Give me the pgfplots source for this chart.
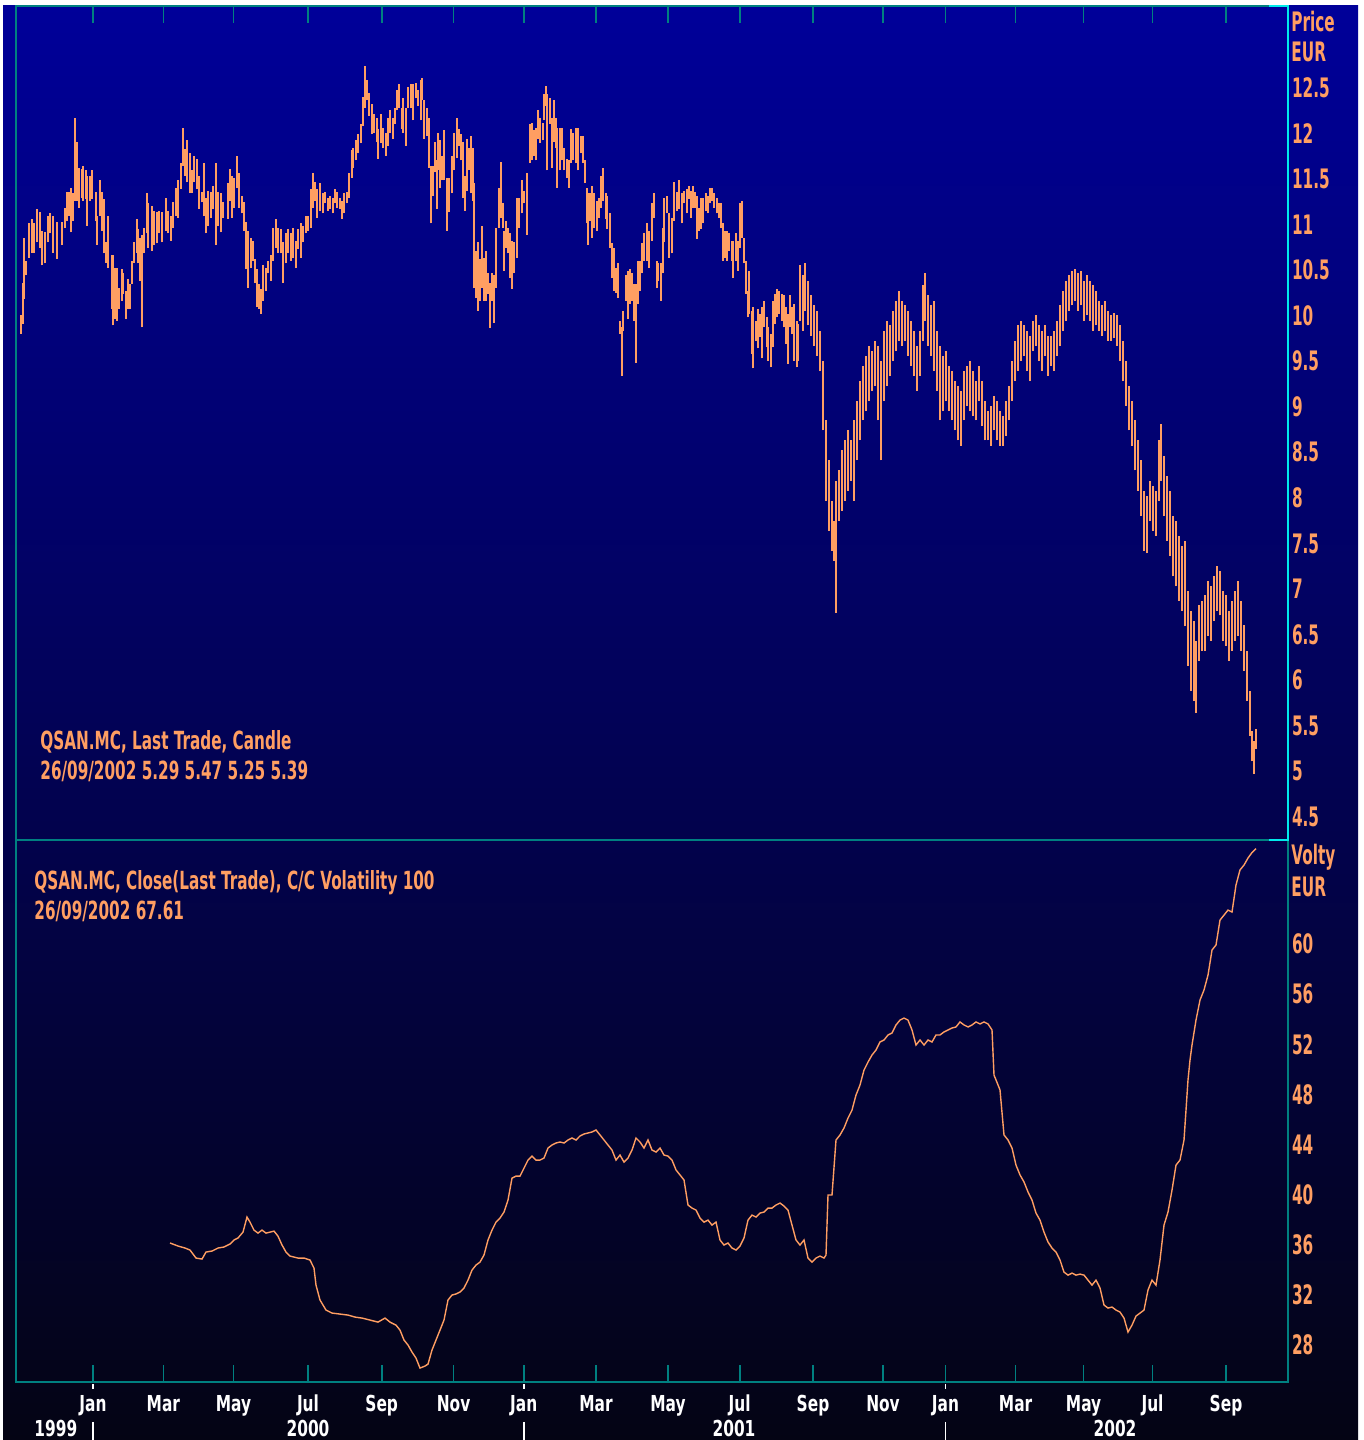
\documentclass[border=0pt]{standalone}
\usepackage{pgfplots}
\usepackage{pgfplotstable}
\pgfplotsset{compat=1.18}
\usepackage{fontspec}
\setmainfont{DejaVu Sans}
\newfontfamily\rfont{DejaVu Sans}[FakeStretch=0.57]
\newfontfamily\tfont{DejaVu Sans}[FakeStretch=0.61]
\newfontfamily\mfont{DejaVu Sans}[FakeStretch=0.70]
\definecolor{bgtop}{RGB}{0,0,153}
\definecolor{bgbot}{RGB}{4,4,20}
\definecolor{frame}{RGB}{0,128,128}
\definecolor{cyanl}{RGB}{0,235,235}
\definecolor{org}{RGB}{255,158,98}
\newcommand{\rlab}{\rfont\fontsize{13.4}{15}\selectfont\bfseries}
\newcommand{\tlab}{\tfont\fontsize{12.5}{14}\selectfont\bfseries}
\newcommand{\mlab}{\mfont\fontsize{11}{13}\selectfont\bfseries}

\pgfplotstableread{
x lo hi
21 9.80 10.00
23 9.91 10.36
24 10.18 10.85
26 10.44 10.60
29 10.63 11.01
32 10.69 11.06
34 10.69 11.01
37 10.80 11.17
40 10.74 11.13
42 10.55 10.93
45 10.57 10.91
48 10.80 11.09
50 10.90 11.12
53 10.69 11.09
57 10.62 11.02
62 10.77 11.02
65 10.96 11.18
67 11.04 11.35
69 11.09 11.35
71 10.91 11.40
73 11.04 11.34
75 11.26 12.16
77 11.26 11.90
79 11.18 11.62
82 11.29 11.61
83 11.26 11.64
86 11.28 11.59
87 10.98 11.53
90 11.26 11.53
92 11.28 11.59
96 11.04 11.35
97 10.77 11.09
100 11.09 11.48
102 10.93 11.35
104 10.68 11.28
106 10.58 10.80
108 10.52 11.09
112 10.07 10.66
113 9.89 10.66
115 9.96 10.52
117 9.94 10.52
119 10.07 10.30
122 10.16 10.51
123 10.24 10.46
126 9.96 10.27
128 10.07 10.40
130 10.07 10.35
132 10.35 10.60
134 10.58 10.80
137 10.69 11.06
138 10.57 10.95
140 10.38 10.85
142 9.87 10.88
144 10.68 10.96
147 10.90 11.34
148 10.74 11.23
152 10.71 11.20
154 10.77 11.15
157 10.79 11.13
159 10.90 11.15
162 10.80 11.13
166 10.93 11.29
168 10.90 11.15
171 10.82 11.09
173 10.96 11.24
176 11.09 11.40
178 11.07 11.48
181 11.39 11.67
183 11.64 12.06
185 11.53 11.83
187 11.46 11.92
190 11.34 11.78
192 11.34 11.59
194 11.46 11.75
197 11.39 11.72
199 11.17 11.53
202 11.24 11.35
204 11.09 11.67
206 10.90 11.29
208 10.98 11.37
211 11.07 11.35
213 11.17 11.42
216 10.77 11.67
218 10.98 11.35
221 10.91 11.34
223 11.07 11.24
228 11.06 11.45
230 11.26 11.61
232 11.07 11.53
234 11.18 11.51
237 11.40 11.75
239 11.18 11.56
242 11.12 11.31
244 10.93 11.24
246 10.51 11.02
248 10.30 10.93
251 10.52 10.85
253 10.60 10.82
255 10.36 10.62
257 10.09 10.51
259 10.07 10.35
261 10.02 10.29
263 10.16 10.55
266 10.27 10.52
268 10.46 10.60
271 10.38 10.66
273 10.60 10.96
276 10.74 11.06
278 10.69 10.96
281 10.68 10.95
283 10.36 10.80
286 10.57 10.90
288 10.69 10.95
291 10.60 10.90
293 10.63 10.96
296 10.52 10.82
298 10.73 10.95
301 10.63 11.01
303 10.80 10.98
306 10.90 11.09
308 10.93 11.09
311 10.96 11.39
313 11.18 11.56
315 11.26 11.46
317 11.07 11.39
320 11.15 11.45
323 11.12 11.34
325 11.23 11.35
328 11.15 11.29
330 11.17 11.31
333 11.12 11.29
335 11.23 11.39
337 11.18 11.35
340 11.17 11.29
342 11.06 11.26
344 11.12 11.34
347 11.23 11.35
349 11.29 11.56
352 11.51 11.81
353 11.62 11.84
356 11.70 11.92
358 11.78 11.99
361 11.89 12.10
363 12.08 12.39
365 12.28 12.74
367 12.36 12.58
369 12.19 12.44
372 11.99 12.32
374 12.00 12.21
377 11.90 12.17
378 11.72 12.05
381 11.89 12.21
383 11.84 12.06
386 11.75 12.00
388 11.86 12.16
390 12.00 12.25
393 11.94 12.17
395 12.10 12.27
397 12.25 12.47
399 12.28 12.54
402 12.05 12.28
403 12.00 12.38
406 11.86 12.27
408 12.28 12.50
411 12.28 12.54
413 12.14 12.54
416 12.38 12.55
418 12.30 12.47
421 12.14 12.58
422 12.36 12.60
424 11.94 12.36
427 11.97 12.28
429 11.62 12.16
431 11.01 11.64
433 11.31 11.64
435 11.57 11.90
437 11.17 11.70
438 11.59 12.00
440 11.40 11.92
442 11.48 11.75
444 11.48 12.03
447 10.93 11.51
449 11.13 11.51
452 11.34 11.75
454 11.59 12.00
457 11.73 12.16
459 11.86 12.05
461 11.70 11.99
463 11.29 11.90
465 11.15 11.53
467 11.37 11.94
469 11.59 11.84
471 11.34 11.97
473 11.26 11.84
474 10.30 11.45
476 10.19 10.71
478 10.05 10.80
480 10.16 10.62
482 10.30 10.98
484 10.16 10.63
486 10.16 10.71
488 10.24 10.47
490 9.86 10.36
492 10.16 10.46
494 9.92 10.44
496 10.30 10.96
499 10.96 11.40
501 11.07 11.68
503 10.96 11.23
504 10.49 10.93
506 10.74 11.04
508 10.68 10.96
510 10.41 10.90
512 10.29 10.82
514 10.46 10.80
517 10.63 11.29
519 10.96 11.29
522 11.12 11.48
524 11.23 11.37
527 10.88 11.56
530 11.67 12.10
532 11.70 12.11
534 11.75 12.03
536 11.70 12.06
538 11.94 12.25
540 11.89 12.16
543 11.92 12.11
544 12.14 12.43
546 12.30 12.52
547 11.59 12.43
550 12.10 12.38
552 11.62 12.17
554 11.90 12.36
556 11.84 12.17
557 11.40 12.06
560 11.59 12.06
562 11.70 12.06
564 11.59 11.84
567 11.51 11.72
569 11.40 11.70
571 11.67 12.05
573 11.70 12.00
576 11.67 12.06
578 11.59 12.06
581 11.78 11.97
583 11.67 11.97
585 11.45 11.70
587 11.01 11.40
588 10.77 11.34
590 11.04 11.34
592 10.85 11.42
594 10.96 11.34
597 10.93 11.26
599 11.07 11.29
601 11.18 11.53
603 11.26 11.62
606 11.06 11.34
607 10.95 11.31
610 10.74 11.12
612 10.41 10.79
614 10.27 10.74
616 10.25 10.52
618 10.19 10.58
620 9.80 9.94
622 9.34 9.87
623 9.83 10.05
626 10.16 10.44
628 9.96 10.49
630 10.13 10.51
632 10.16 10.46
634 9.94 10.35
636 9.48 10.35
638 10.13 10.60
640 10.27 10.60
642 10.46 10.79
644 10.60 10.90
647 10.60 11.01
649 10.52 10.93
652 10.82 11.23
654 11.07 11.34
657 10.30 10.60
658 10.38 10.58
661 10.16 10.58
663 10.46 10.96
664 10.80 11.29
667 11.12 11.31
669 10.63 11.12
672 10.68 11.07
674 11.04 11.46
677 11.15 11.35
679 11.17 11.48
682 11.01 11.34
684 11.23 11.37
687 11.12 11.39
689 11.28 11.42
691 11.07 11.37
693 11.18 11.42
695 11.18 11.35
697 10.84 11.31
699 10.93 11.18
701 10.95 11.29
703 11.01 11.29
706 11.15 11.34
708 11.12 11.31
710 11.23 11.40
712 11.26 11.40
714 11.18 11.34
717 11.12 11.29
719 11.07 11.23
721 10.96 11.23
723 10.60 11.01
725 10.63 10.93
727 10.60 10.93
729 10.71 10.90
732 10.60 10.82
733 10.41 10.82
736 10.60 10.90
738 10.49 10.82
740 10.74 11.23
742 10.85 11.26
744 10.57 10.85
746 10.24 10.60
748 9.98 10.27
749 10.02 10.49
752 9.58 10.05
753 9.42 10.09
756 9.72 9.94
758 9.64 10.07
760 9.76 10.02
762 9.53 10.09
764 9.87 10.16
767 9.65 9.98
768 9.50 9.87
771 9.43 9.80
773 9.65 10.16
775 9.91 10.24
777 9.98 10.29
779 10.02 10.27
782 9.94 10.24
784 9.87 10.22
786 9.69 10.09
788 9.47 10.02
790 9.87 10.22
792 9.80 10.09
794 9.50 10.13
797 9.43 9.94
798 9.50 9.91
800 9.94 10.55
803 9.83 10.44
805 10.05 10.58
808 9.89 10.38
811 9.78 10.22
814 9.67 10.11
817 9.56 10.05
820 9.39 9.83
823 8.74 9.50
826 7.97 8.85
829 7.64 8.41
832 7.42 7.97
834 7.31 7.75
836 6.74 8.19
839 7.75 8.30
842 7.86 8.52
845 7.97 8.63
848 8.08 8.74
851 8.19 8.63
854 7.97 8.85
857 8.41 9.06
860 8.63 9.28
863 8.85 9.45
866 8.95 9.56
869 9.06 9.67
872 9.17 9.61
875 9.23 9.72
878 8.85 9.67
881 8.41 9.50
884 9.06 9.83
887 9.23 9.94
890 9.34 9.89
893 9.50 10.05
896 9.61 10.16
899 9.72 10.27
902 9.67 10.16
905 9.72 10.11
908 9.56 10.05
911 9.45 9.94
914 9.34 9.83
917 9.17 9.67
920 9.34 9.83
923 9.72 10.33
925 9.94 10.47
928 9.67 10.22
931 9.56 10.11
934 9.39 10.16
937 9.17 9.83
940 8.85 9.67
943 8.95 9.56
946 9.06 9.61
949 8.95 9.45
952 8.85 9.39
955 8.74 9.28
958 8.63 9.23
961 8.57 9.17
964 8.85 9.39
967 9.01 9.45
970 8.95 9.50
973 8.90 9.39
976 8.85 9.28
979 9.06 9.45
982 8.79 9.28
985 8.63 9.06
988 8.63 8.95
991 8.57 9.01
994 8.74 9.12
997 8.63 9.06
1000 8.57 8.95
1003 8.57 8.90
1006 8.68 9.06
1009 8.85 9.23
1012 9.06 9.50
1015 9.28 9.72
1018 9.39 9.89
1021 9.50 9.94
1024 9.56 9.89
1027 9.39 9.83
1030 9.28 9.78
1033 9.61 9.94
1036 9.67 10.00
1039 9.50 9.89
1042 9.39 9.83
1045 9.56 9.89
1048 9.34 9.78
1051 9.45 9.78
1054 9.39 9.83
1057 9.56 9.94
1060 9.67 10.11
1063 9.83 10.27
1066 9.94 10.38
1069 10.05 10.44
1072 10.11 10.49
1075 10.16 10.51
1078 10.05 10.47
1081 10.11 10.49
1084 9.94 10.38
1087 10.00 10.44
1090 9.94 10.38
1093 9.83 10.33
1096 9.89 10.27
1099 9.83 10.16
1102 9.78 10.11
1105 9.83 10.16
1108 9.72 10.05
1111 9.72 10.00
1114 9.75 10.03
1117 9.67 10.00
1120 9.50 9.89
1123 9.28 9.72
1126 9.01 9.50
1129 8.74 9.23
1132 8.57 9.06
1135 8.30 8.85
1138 8.08 8.63
1141 7.80 8.41
1144 7.42 8.08
1147 7.39 8.02
1150 7.75 8.19
1153 7.64 8.13
1156 7.58 8.08
1159 7.97 8.63
1161 8.19 8.81
1164 7.80 8.46
1167 7.53 8.24
1170 7.36 8.08
1173 7.14 7.80
1176 7.03 7.75
1179 6.87 7.58
1182 6.76 7.47
1185 6.59 7.53
1188 6.16 6.98
1191 5.88 6.76
1194 5.77 6.65
1196 5.64 6.43
1199 6.21 6.82
1202 6.32 6.87
1205 6.32 6.93
1208 6.49 7.09
1211 6.43 7.03
1214 6.65 7.14
1217 6.76 7.25
1220 6.71 7.20
1223 6.43 6.98
1226 6.38 6.93
1229 6.21 6.76
1232 6.32 6.87
1235 6.43 6.98
1238 6.49 7.09
1241 6.32 6.87
1244 6.10 6.60
1247 5.77 6.32
1250 5.39 5.88
1252 5.11 5.44
1254 4.97 5.33
1256 5.25 5.47
}\price

\pgfplotstableread{
x v
170 36.14
178 35.90
185 35.74
190 35.58
196 34.94
202 34.86
206 35.42
212 35.50
218 35.74
224 35.82
230 36.06
234 36.38
238 36.54
243 37.01
247 38.21
250 37.81
254 37.17
258 36.93
262 37.17
266 36.93
270 37.01
274 37.09
278 36.69
282 35.98
286 35.42
290 35.10
294 35.02
298 34.94
304 34.94
310 34.78
314 34.14
316 32.78
320 31.59
326 30.79
332 30.55
340 30.47
348 30.39
355 30.23
362 30.15
370 29.99
378 29.83
385 30.15
390 29.83
396 29.59
400 29.19
404 28.40
408 28.00
412 27.44
416 26.96
420 26.16
425 26.32
428 26.48
432 27.60
436 28.40
440 29.19
444 29.99
448 31.59
452 31.99
456 32.07
460 32.23
464 32.55
468 33.18
472 33.98
476 34.38
480 34.62
484 35.18
488 36.38
492 37.17
496 37.81
500 38.13
504 38.61
508 39.57
512 41.32
516 41.48
520 41.48
524 42.12
528 42.76
532 43.08
536 42.76
540 42.76
544 42.92
548 43.72
552 43.96
556 44.12
560 44.20
564 44.12
568 44.36
572 44.52
576 44.36
580 44.68
584 44.84
588 44.92
592 45.00
596 45.16
600 44.76
604 44.36
608 43.96
612 43.56
616 42.76
620 43.16
624 42.60
628 42.92
632 43.56
636 44.52
640 44.20
644 43.72
648 44.36
652 43.56
656 43.40
660 43.72
664 43.16
668 43.08
672 42.76
676 41.97
680 41.57
684 41.17
688 39.17
692 38.93
696 38.77
700 38.13
704 37.81
708 37.97
712 37.57
716 37.81
720 36.38
724 35.98
728 36.14
732 35.74
736 35.58
740 35.90
744 36.54
748 37.97
752 38.37
756 38.21
760 38.53
764 38.61
768 38.93
772 38.93
776 39.17
780 39.33
784 39.09
788 38.77
792 37.57
796 36.38
800 35.98
804 36.38
808 34.94
812 34.62
816 34.94
820 35.10
824 34.94
826 35.18
828 39.97
832 39.97
836 44.36
840 44.76
844 45.32
848 46.11
852 46.75
856 47.95
860 48.75
864 49.94
868 50.58
872 51.14
876 51.54
880 52.18
884 52.34
888 52.74
892 52.90
896 53.54
900 53.93
904 54.09
908 53.93
912 53.14
916 51.94
920 52.34
924 51.94
928 52.34
932 52.18
936 52.74
940 52.74
944 52.98
948 53.14
952 53.30
956 53.38
960 53.78
964 53.54
968 53.38
972 53.54
976 53.78
980 53.62
984 53.78
988 53.62
992 53.14
994 49.54
996 49.15
1000 48.35
1004 44.76
1008 44.36
1012 43.72
1016 42.36
1020 41.57
1024 41.01
1028 40.21
1032 39.57
1036 38.53
1040 37.97
1044 37.01
1048 36.22
1052 35.74
1056 35.42
1060 34.78
1064 33.82
1068 33.58
1072 33.74
1076 33.58
1080 33.66
1084 33.58
1088 33.18
1092 32.78
1096 33.18
1100 32.55
1104 31.19
1108 30.95
1112 31.03
1116 30.79
1120 30.63
1124 30.15
1128 29.03
1132 29.59
1136 30.31
1140 30.55
1144 30.79
1148 32.39
1152 33.18
1156 32.78
1160 34.78
1164 37.57
1168 38.61
1172 40.36
1176 42.36
1180 42.76
1184 44.36
1186 46.75
1188 49.15
1190 50.74
1192 51.94
1196 53.93
1200 55.53
1204 56.33
1208 57.52
1212 59.52
1216 59.92
1220 61.91
1224 62.31
1228 62.71
1232 62.55
1236 64.71
1240 65.91
1244 66.30
1248 66.86
1252 67.30
1256 67.61
}\volty

\begin{document}
\begin{tikzpicture}
\useasboundingbox (0pt,0pt) rectangle (682pt,720pt);
\fill[white] (0pt,0pt) rectangle (682pt,720pt);
\shade[top color=bgtop, bottom color=bgbot] (1.5pt,0pt) rectangle (679pt,717pt);

\pgfplotsset{
  panel/.style={
    anchor=south west, scale only axis, width=636pt,
    xmin=16, xmax=1288,
    axis line style={draw=frame, line width=1pt},
    xtick={93,163.4,233.5,308,381.7,453.6,523.7,596,668,739.7,813,883,945.5,1015.6,1083.6,1152.5,1226},
    tick align=inside,
    x tick style={draw=frame, line width=0.8pt},
    y tick style={draw=none},
    major tick length=8.5pt,
    ytick pos=right, yticklabel pos=right,
    yticklabel style={anchor=west, inner sep=0pt, xshift=1.8pt, text=org, font=\rlab},
    /pgf/number format/assume math mode=true,
    /pgf/number format/fixed,
    clip=true,
  }
}

% price panel
\begin{axis}[panel, at={(8pt,300pt)}, height=417pt,
  ymin=4.2478, ymax=13.3937,
  xtick pos=upper, xticklabels={},
  ytick={4.5,5,5.5,6,6.5,7,7.5,8,8.5,9,9.5,10,10.5,11,11.5,12,12.5},
  yticklabels={4.5,5,5.5,6,6.5,7,7.5,8,8.5,9,9.5,10,10.5,11,11.5,12,12.5},
]
\addplot[draw=none, mark=none, forget plot,
  error bars/.cd, y dir=plus, y explicit, error mark=none,
  error bar style={draw=org, line width=1pt}]
  table[x=x, y=lo, y error expr=\thisrow{hi}-\thisrow{lo}] {\price};
\end{axis}

% volatility panel
\begin{axis}[panel, at={(8pt,29pt)}, height=271pt,
  ymin=25.05, ymax=68.3,
  xtick pos=lower,
  xticklabels={Jan,Mar,May,Jul,Sep,Nov,Jan,Mar,May,Jul,Sep,Nov,Jan,Mar,May,Jul,Sep},
  xticklabel style={font=\mlab, text=white, anchor=base, inner sep=0pt, yshift=-15pt},
  ytick={28,32,36,40,44,48,52,56,60},
  yticklabels={28,32,36,40,44,48,52,56,60},
]
\addplot[draw=org, line width=0.7pt, mark=none] table[x=x, y=v] {\volty};
\end{axis}

% cyan right edge of the price panel
\draw[cyanl, line width=1pt] (634.5pt,717pt) -- (644pt,717pt) -- (644pt,300pt) -- (634.5pt,300pt);

% axis unit labels
\node[anchor=base west, inner sep=0pt, text=org, font=\rlab] at (645.5pt,704pt) {Price};
\node[anchor=base west, inner sep=0pt, text=org, font=\rlab] at (645.5pt,689pt) {EUR};
\node[anchor=base west, inner sep=0pt, text=org, font=\rlab] at (645.5pt,287.5pt) {Volty};
\node[anchor=base west, inner sep=0pt, text=org, font=\rlab] at (645.5pt,271.5pt) {EUR};

% legends
\node[anchor=base west, inner sep=0pt, text=org, font=\tlab] at (20pt,345pt) {QSAN.MC, Last Trade, Candle};
\node[anchor=base west, inner sep=0pt, text=org, font=\tlab] at (20pt,330pt) {26/09/2002 5.29 5.47 5.25 5.39};
\node[anchor=base west, inner sep=0pt, text=org, font=\tlab] at (17pt,275pt) {QSAN.MC, Close(Last Trade), C/C Volatility 100};
\node[anchor=base west, inner sep=0pt, text=org, font=\tlab] at (17pt,260pt) {26/09/2002 67.61};

% year labels and separators
\foreach \xx in {46.5,262,472.75}{
  \draw[white, line width=0.6pt] (\xx pt,28pt) -- (\xx pt,25.5pt);
  \draw[white, line width=0.6pt] (\xx pt,9pt) -- (\xx pt,0pt);
}
\node[anchor=base, inner sep=0pt, text=white, font=\mlab] at (27.9pt,1.6pt) {1999};
\node[anchor=base, inner sep=0pt, text=white, font=\mlab] at (154pt,1.6pt) {2000};
\node[anchor=base, inner sep=0pt, text=white, font=\mlab] at (367pt,1.6pt) {2001};
\node[anchor=base, inner sep=0pt, text=white, font=\mlab] at (557.5pt,1.6pt) {2002};
\end{tikzpicture}
\end{document}
